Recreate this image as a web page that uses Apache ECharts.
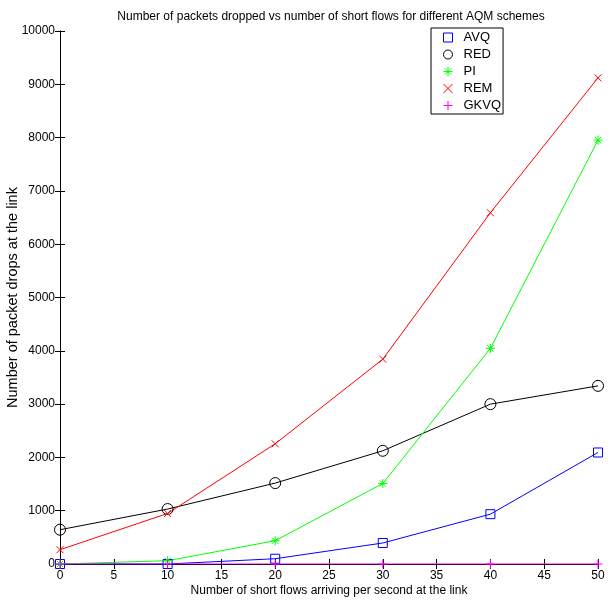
<!DOCTYPE html>
<html>
<head>
<meta charset="utf-8">
<script src="https://cdn.jsdelivr.net/npm/echarts@6/dist/echarts.min.js"></script>
<style>html,body{margin:0;padding:0;background:#fff}#c{width:608px;height:606px}</style>
</head>
<body>
<div id="c"></div>
<script>
var xValues = [0, 10, 20, 30, 40, 50];
var avq  = [0, 0, 99, 394, 935, 2092];
var red  = [643, 1031, 1518, 2124, 2999, 3342];
var pi   = [0, 62, 437, 1511, 4045, 7953];
var rem  = [268, 948, 2255, 3843, 6590, 9121];
var gkvq = [0, 0, 0, 0, 0, 0];
var seriesNames = ['AVQ', 'RED', 'PI', 'REM', 'GKVQ'];
var titleText = 'Number of packets dropped vs number of short flows for different AQM schemes';
var xLabel = 'Number of short flows arriving per second at the link';
var yLabel = 'Number of packet drops at the link';

var FONT = '"Liberation Sans", Arial, sans-serif';
var SQUARE = 'path://M-5,-5L5,-5L5,5L-5,5Z';
var CIRCLE = 'path://M-5,0A5,5 0 1,0 5,0A5,5 0 1,0 -5,0Z';
var STAR = 'path://M0,-5L0,5M-5,0L5,0M-3.5,-3.5L3.5,3.5M-3.5,3.5L3.5,-3.5';
var CROSS = 'path://M-4,-4L4,4M-4,4L4,-4';
var PLUS = 'path://M0,-5L0,5M-5,0L5,0';

function pairs(arr) { return xValues.map(function (x, i) { return [x, arr[i]]; }); }

function mk(name, data, color, symbol, size) {
  return {
    name: name, type: 'line', data: pairs(data),
    symbol: symbol, symbolSize: size, showAllSymbol: true,
    lineStyle: { color: color, width: 1 },
    itemStyle: { color: 'rgba(0,0,0,0)', borderColor: color, borderWidth: 1 },
    emphasis: { disabled: true }, animation: false, z: 3
  };
}

var chart = echarts.init(document.getElementById('c'), null, { renderer: 'canvas' });
var axisLine = { show: true, lineStyle: { color: '#000', width: 1 } };
chart.setOption({
  backgroundColor: '#fff',
  animation: false,
  textStyle: { fontFamily: FONT },
  title: { text: titleText, left: 326, top: 6, textAlign: 'center',
    textStyle: { fontFamily: FONT, fontSize: 12, fontWeight: 'normal', color: '#000' } },
  grid: { left: 60, right: 10, top: 31, bottom: 42, containLabel: false, outerBoundsMode: 'none' },
  legend: {
    left: 431, top: 28, orient: 'vertical',
    backgroundColor: '#fff', borderColor: '#000', borderWidth: 1,
    padding: [3, 2, 2, 12], itemGap: 4, itemWidth: 9, itemHeight: 9,
    itemStyle: { borderWidth: 1 },
    textStyle: { fontFamily: FONT, fontSize: 13, color: '#000', padding: [0, 0, 0, 6] },
    data: [
      { name: 'AVQ', icon: SQUARE },
      { name: 'RED', icon: CIRCLE },
      { name: 'PI', icon: STAR },
      { name: 'REM', icon: CROSS },
      { name: 'GKVQ', icon: PLUS }
    ]
  },
  xAxis: [
    { type: 'value', min: 0, max: 50, interval: 5, position: 'bottom',
      name: xLabel, nameLocation: 'middle', nameGap: 21, nameMoveOverlap: false,
      nameTextStyle: { fontFamily: FONT, fontSize: 12, color: '#000' },
      axisLine: axisLine, axisTick: { show: true, inside: true, length: 5, lineStyle: { color: '#000' } },
      axisLabel: { fontFamily: FONT, fontSize: 12, color: '#000', margin: 6 },
      splitLine: { show: false } },
    { type: 'value', min: 0, max: 50, interval: 5, position: 'top',
      axisLine: axisLine, axisTick: { show: true, inside: true, length: 5, lineStyle: { color: '#000' } },
      axisLabel: { show: false }, splitLine: { show: false } }
  ],
  yAxis: [
    { type: 'value', min: 0, max: 10000, interval: 1000, position: 'left',
      name: yLabel, nameLocation: 'middle', nameGap: 40, nameMoveOverlap: false,
      nameTextStyle: { fontFamily: FONT, fontSize: 14.5, color: '#000' },
      axisLine: axisLine, axisTick: { show: true, inside: true, length: 5, lineStyle: { color: '#000' } },
      axisLabel: { fontFamily: FONT, fontSize: 12, color: '#000', margin: 5,
        formatter: function (v) { return String(v); } },
      splitLine: { show: false } },
    { type: 'value', min: 0, max: 10000, interval: 1000, position: 'right',
      axisLine: axisLine, axisTick: { show: true, inside: true, length: 5, lineStyle: { color: '#000' } },
      axisLabel: { show: false }, splitLine: { show: false } }
  ],
  series: [
    mk('AVQ', avq, '#0000ff', SQUARE, 9),
    mk('RED', red, '#000000', CIRCLE, 11),
    mk('PI', pi, '#00ff00', STAR, 9),
    mk('REM', rem, '#ff0000', CROSS, 7),
    mk('GKVQ', gkvq, '#ff00ff', PLUS, 9)
  ]
});
</script>
</body>
</html>
